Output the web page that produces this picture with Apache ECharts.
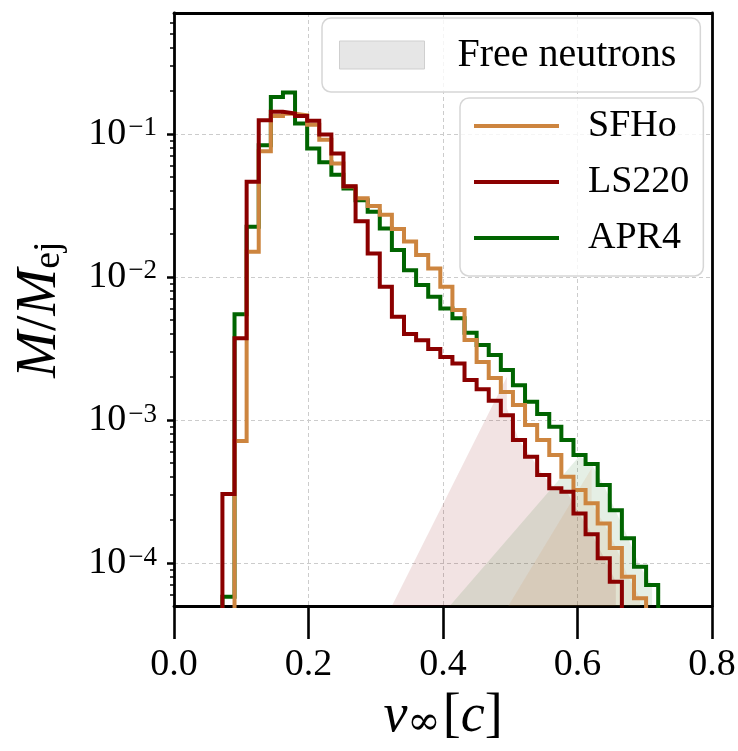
<!DOCTYPE html>
<html><head><meta charset="utf-8">
<script src="https://cdn.jsdelivr.net/npm/echarts@6/dist/echarts.min.js"></script>
<style>html,body{margin:0;padding:0;background:#fff}#c{width:738px;height:751px}</style>
</head><body><div id="c"></div>
<script>
// ---------------- data ----------------
const binEdges = [0.072,0.090,0.108,0.126,0.144,0.162,0.180,0.198,0.216,0.234,0.252,0.270,0.288,0.306,0.324,0.342,0.360,0.378,0.396,0.414,0.432,0.450,0.468,0.486,0.504,0.522,0.540,0.558,0.576,0.594,0.612,0.630,0.648,0.666,0.684,0.702,0.720];

const sfhoMass = [null,7.13e-4,0.01497,0.0757,0.1336,0.1385,0.1351,0.1160,0.0911,0.0621,0.0428,0.0354,0.0313,0.0272,0.0216,0.0177,0.0142,0.01146,8.53e-3,5.86e-3,3.62e-3,2.54e-3,1.96e-3,1.57e-3,1.27e-3,9.21e-4,7.24e-4,5.69e-4,4.01e-4,3.24e-4,2.61e-4,1.89e-4,1.27e-4,8.02e-5,5.66e-5,null];
const ls220Mass = [3.03e-4,3.72e-3,0.0462,0.1246,0.1425,0.139,0.1336,0.1236,0.0990,0.0730,0.0431,0.0245,0.0146,8.53e-3,5.26e-3,3.98e-3,3.61e-3,3.13e-3,2.75e-3,2.48e-3,1.90e-3,1.64e-3,1.36e-3,1.08e-3,7.24e-4,5.53e-4,4.12e-4,3.33e-4,3.15e-4,2.22e-4,1.59e-4,1.08e-4,7.40e-5,null,null,null];
const apr4Mass = [5.81e-5,5.47e-3,0.0224,0.0834,0.1814,0.1947,0.1182,0.0791,0.0634,0.0517,0.0415,0.0344,0.0285,0.0218,0.01539,0.01115,8.77e-3,7.26e-3,6.02e-3,5.13e-3,4.07e-3,3.34e-3,2.84e-3,2.23e-3,1.75e-3,1.34e-3,1.10e-3,8.96e-4,7.24e-4,5.69e-4,4.92e-4,3.51e-4,2.34e-4,1.49e-4,9.42e-5,7.02e-5];

// free-neutron shaded regions
const freeVelLS220 = [0.324,0.495,0.495,0.513,0.531,0.549,0.567,0.585,0.603,0.621,0.639,0.657];
const freeMassLS220 = [5e-5,2.0e-3,1.2e-3,7.2e-4,5.5e-4,4.1e-4,3.3e-4,3.1e-4,2.2e-4,1.6e-4,1.1e-4,7.4e-5];
const freeVelAPR4 = [0.410,0.603,0.621,0.639,0.657,0.675,0.693,0.711];
const freeMassAPR4 = [5e-5,5.6e-4,4.9e-4,3.5e-4,2.3e-4,1.5e-4,9.4e-5,7.0e-5];
const freeVelSFHo = [0.497,0.621,0.621,0.639,0.657,0.675,0.693];
const freeMassSFHo = [5e-5,4.6e-4,2.6e-4,1.9e-4,1.3e-4,8.0e-5,5.7e-5];

const xTicks = [0, 0.2, 0.4, 0.6, 0.8];
const yMajorTicks = [1e-4, 1e-3, 1e-2, 1e-1];
const yMinorTicks = [6e-5,7e-5,8e-5,9e-5,
  2e-4,3e-4,4e-4,5e-4,6e-4,7e-4,8e-4,9e-4,
  2e-3,3e-3,4e-3,5e-3,6e-3,7e-3,8e-3,9e-3,
  2e-2,3e-2,4e-2,5e-2,6e-2,7e-2,8e-2,9e-2,
  2e-1,3e-1,4e-1,5e-1,6e-1];
const seriesNames = ['SFHo','LS220','APR4'];
const legendFree = 'Free neutrons';

// ---------------- styling ----------------
const Y_MIN = 5e-5, Y_MAX = 0.7;
const FONT = "'Liberation Serif','Times New Roman',serif";
const COL = {SFHo:'#CD853F', LS220:'#8B0000', APR4:'#006400'};
const FILL = {SFHo:'rgba(205,133,63,0.12)', LS220:'rgba(139,0,0,0.11)', APR4:'rgba(0,100,0,0.10)'};
const FLOOR = 1e-7;

function stepPath(edges, vals) {
  const pts = [];
  let open = false;
  for (let i = 0; i < vals.length; i++) {
    const v = vals[i];
    if (v == null) {
      if (open) { pts.push([edges[i], FLOOR]); open = false; }
      continue;
    }
    if (!open) pts.push([edges[i], FLOOR]);
    pts.push([edges[i], v]);
    pts.push([edges[i + 1], v]);
    open = true;
  }
  if (open) pts.push([edges[vals.length], FLOOR]);
  return pts;
}
function fillSeries(xs, ms, color) {
  return {
    type: 'line', name: legendFree, data: xs.map((x, i) => [x, ms[i]]),
    symbol: 'none', showSymbol: false, silent: true, z: 1,
    color: '#e6e6e6',
    lineStyle: {width: 0, opacity: 0},
    areaStyle: {color: color, opacity: 1, origin: Y_MIN},
    clip: true
  };
}
function stepSeries(name, vals, z) {
  return {
    type: 'line', name: name, data: stepPath(binEdges, vals),
    symbol: 'none', showSymbol: false, z: z, clip: true,
    color: COL[name], itemStyle: {color: COL[name]},
    lineStyle: {color: COL[name], width: 4, join: 'miter', cap: 'butt'}
  };
}
const frameAxis = {
  axisLine: {show: true, onZero: false, lineStyle: {color: '#000', width: 2.8}},
  axisTick: {show: false}, axisLabel: {show: false}, splitLine: {show: false}
};

const chart = echarts.init(document.getElementById('c'), null, {renderer: 'canvas'});
const option = {
  animation: false,
  backgroundColor: '#ffffff',
  textStyle: {fontFamily: FONT},
  grid: {left: 174, right: 26, top: 13, bottom: 145, show: false, containLabel: false, outerBoundsMode: 'none'},
  xAxis: [{
    type: 'value', min: xTicks[0], max: xTicks[xTicks.length - 1], interval: 0.2, position: 'bottom',
    axisLine: {show: true, onZero: false, lineStyle: {color: '#000', width: 2.8}},
    axisTick: {show: true, inside: false, length: 33, lineStyle: {color: '#000', width: 2.6}},
    axisLabel: {show: true, margin: 40, fontSize: 38, color: '#000', fontFamily: FONT, formatter: v => v.toFixed(1), showMinLabel: true, showMaxLabel: true},
    splitLine: {show: true, lineStyle: {color: '#cccccc', width: 1, type: [4, 3]}},
    name: '{i|v}{s|∞}{n|[}{i|c}{n|]}', nameLocation: 'middle', nameGap: 84,
    nameTextStyle: {rich: {
      i: {fontFamily: FONT, fontStyle: 'italic', fontSize: 54, color: '#000'},
      n: {fontFamily: FONT, fontSize: 54, color: '#000'},
      s: {fontFamily: "'DejaVu Serif',serif", fontSize: 40, color: '#000', verticalAlign: 'bottom', lineHeight: 20, padding: [0, 2, 0, 0]}
    }}
  }, Object.assign({type: 'value', min: xTicks[0], max: xTicks[xTicks.length - 1], position: 'top'}, frameAxis)],
  yAxis: [{
    type: 'log', logBase: 10, min: Y_MIN, max: Y_MAX, position: 'left',
    axisLine: {show: true, onZero: false, lineStyle: {color: '#000', width: 2.8}},
    axisTick: {show: true, inside: false, length: 7, lineStyle: {color: '#000', width: 2.5}, customValues: yMajorTicks},
    minorTick: {show: false},
    axisLabel: {show: true, margin: 17, customValues: yMajorTicks,
      formatter: v => '{b|10}{s|\u2212' + Math.round(-Math.log10(v)) + '}',
      rich: {
        b: {fontFamily: FONT, fontSize: 38, color: '#000'},
        s: {fontFamily: FONT, fontSize: 27, color: '#000', verticalAlign: 'top', lineHeight: 20, padding: [0, 0, 0, 2]}
      }},
    splitLine: {show: true, lineStyle: {color: '#cccccc', width: 1, type: [4, 3]}},
    name: '{i|M}{n|/}{i|M}{s|ej}', nameLocation: 'middle', nameRotate: 90, nameGap: 106,
    nameTextStyle: {rich: {
      i: {fontFamily: FONT, fontStyle: 'italic', fontSize: 56, color: '#000'},
      n: {fontFamily: FONT, fontSize: 56, color: '#000'},
      s: {fontFamily: FONT, fontSize: 38, color: '#000', verticalAlign: 'bottom', lineHeight: 22}
    }}
  }, {
    type: 'log', logBase: 10, min: Y_MIN, max: Y_MAX, position: 'left', offset: 0,
    axisLine: {show: false},
    axisTick: {show: true, inside: false, length: 4, lineStyle: {color: '#000', width: 1.5}, customValues: yMinorTicks},
    axisLabel: {show: false},
    splitLine: {show: false}
  }, Object.assign({type: 'log', logBase: 10, min: Y_MIN, max: Y_MAX, position: 'right', offset: 0}, frameAxis)],
  legend: [{
    data: [{name: legendFree, icon: 'rect', itemStyle: {color: '#e6e6e6', borderColor: '#cfcfcf', borderWidth: 1}}],
    left: 322, top: 18, itemWidth: 85, itemHeight: 28, selectedMode: false,
    padding: [17, 24, 17, 17],
    backgroundColor: 'rgba(255,255,255,0.8)', borderColor: '#d6d6d6', borderWidth: 1.5, borderRadius: 9,
    textStyle: {fontFamily: FONT, fontSize: 40, color: '#000', padding: [0, 0, 0, 28]}
  }, {
    data: seriesNames.map(n => ({name: n})),
    orient: 'vertical', left: 460, top: 98, icon: 'rect', itemWidth: 85, itemHeight: 3.8, itemGap: 18,
    selectedMode: false, padding: [9, 14, 19, 14],
    backgroundColor: 'rgba(255,255,255,0.8)', borderColor: '#d6d6d6', borderWidth: 1.5, borderRadius: 9,
    textStyle: {fontFamily: FONT, fontSize: 38, color: '#000', padding: [0, 0, 0, 24]}
  }],
  series: [
    fillSeries(freeVelLS220, freeMassLS220, FILL.LS220),
    fillSeries(freeVelAPR4, freeMassAPR4, FILL.APR4),
    fillSeries(freeVelSFHo, freeMassSFHo, FILL.SFHo),
    stepSeries('APR4', apr4Mass, 3),
    stepSeries('SFHo', sfhoMass, 4),
    stepSeries('LS220', ls220Mass, 5)
  ]
};
chart.setOption(option);
</script>
</body></html>
